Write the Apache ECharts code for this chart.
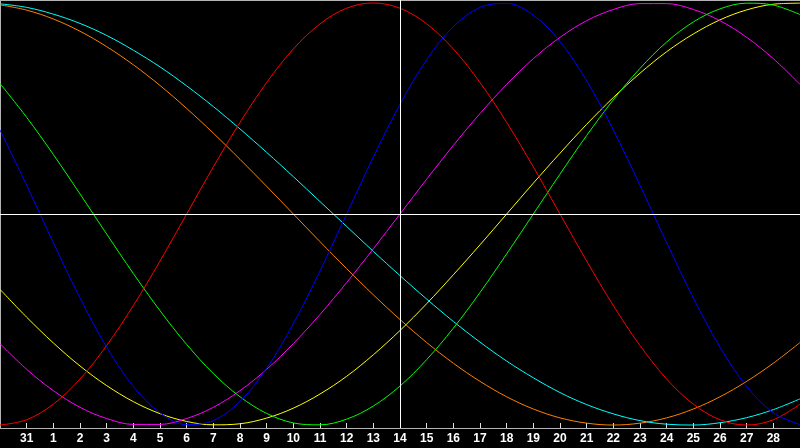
<!DOCTYPE html>
<html>
<head>
<meta charset="utf-8">
<script src="https://cdn.jsdelivr.net/npm/echarts@6/dist/echarts.min.js"></script>
<style>
  html, body { margin: 0; padding: 0; background: #000; }
  #chart { width: 800px; height: 448px; }
</style>
</head>
<body>
<div id="chart"></div>
<script>
// Day labels (index 0 and last are off-label edge days)
const days = ['30','31','1','2','3','4','5','6','7','8','9','10','11','12','13','14','15','16','17','18','19','20','21','22','23','24','25','26','27','28','1'];
const todayIndex = 15; // day "14"

// Cycle values (-1 .. 1)
const physical = [0.398,0.136,-0.136,-0.398,-0.631,-0.817,-0.942,-0.998,-0.979,-0.888,-0.731,-0.520,-0.270,0,0.270,0.520,0.731,0.888,0.979,0.998,0.942,0.817,0.631,0.398,0.136,-0.136,-0.398,-0.631,-0.817,-0.942,-0.998];
const emotional = [-1,-0.975,-0.901,-0.782,-0.623,-0.434,-0.223,0,0.223,0.434,0.623,0.782,0.901,0.975,1,0.975,0.901,0.782,0.623,0.434,0.223,0,-0.223,-0.434,-0.623,-0.782,-0.901,-0.975,-1,-0.975,-0.901];
const intellectual = [0.618,0.458,0.282,0.095,-0.095,-0.282,-0.458,-0.618,-0.756,-0.866,-0.945,-0.990,-0.999,-0.972,-0.910,-0.815,-0.690,-0.541,-0.372,-0.189,0,0.189,0.372,0.541,0.690,0.815,0.910,0.972,0.999,0.990,0.945];
const intuitive = [-0.614,-0.736,-0.837,-0.916,-0.969,-0.997,-0.997,-0.969,-0.916,-0.837,-0.736,-0.614,-0.476,-0.325,-0.165,0,0.165,0.325,0.476,0.614,0.736,0.837,0.916,0.969,0.997,0.997,0.969,0.916,0.837,0.736,0.614];
const aesthetic = [-0.357,-0.489,-0.611,-0.720,-0.813,-0.889,-0.946,-0.983,-0.999,-0.994,-0.967,-0.920,-0.853,-0.769,-0.667,-0.552,-0.425,-0.288,-0.146,0,0.146,0.288,0.425,0.552,0.667,0.769,0.853,0.920,0.967,0.994,0.999];
const awareness = [0.991,0.966,0.924,0.866,0.793,0.707,0.609,0.5,0.383,0.259,0.131,0,-0.131,-0.259,-0.383,-0.5,-0.609,-0.707,-0.793,-0.866,-0.924,-0.966,-0.991,-1,-0.991,-0.966,-0.924,-0.866,-0.793,-0.707,-0.609];
const spiritual = [0.996,0.979,0.947,0.903,0.846,0.776,0.697,0.607,0.509,0.403,0.292,0.177,0.059,-0.059,-0.177,-0.292,-0.403,-0.509,-0.607,-0.697,-0.776,-0.846,-0.903,-0.947,-0.979,-0.996,-1.000,-0.989,-0.965,-0.927,-0.876];

const seriesDefs = [
  { name: 'Awareness', data: awareness, color: '#ff8000' },
  { name: 'Spiritual', data: spiritual, color: '#00ffff' },
  { name: 'Aesthetic', data: aesthetic, color: '#ffff00' },
  { name: 'Intuitive', data: intuitive, color: '#ff00ff' },
  { name: 'Intellectual', data: intellectual, color: '#00ff00' },
  { name: 'Emotional', data: emotional, color: '#ff0000' },
  { name: 'Physical', data: physical, color: '#0000ff' }
];

const chart = echarts.init(document.getElementById('chart'));
const lastIdx = days.length - 1;
const showIdx = (i) => i > 0 && i < lastIdx;

const series = seriesDefs.map((s) => ({
  name: s.name,
  type: 'line',
  data: s.data,
  smooth: 0.35,
  showSymbol: false,
  symbol: 'none',
  lineStyle: { color: s.color, width: 1 },
  itemStyle: { color: s.color },
  silent: true
}));

series.push({
  type: 'line',
  data: [],
  silent: true,
  markLine: {
    silent: true,
    symbol: 'none',
    label: { show: false },
    lineStyle: { color: '#ffffff', width: 1, type: 'solid' },
    data: [{ xAxis: todayIndex }, { yAxis: 0 }]
  }
});

chart.setOption({
  animation: false,
  backgroundColor: '#000000',
  grid: { left: 0, right: 0, top: 0, bottom: 20 },
  xAxis: [
    {
      type: 'category',
      data: days,
      boundaryGap: false,
      position: 'bottom',
      axisLine: { show: true, onZero: false, lineStyle: { color: '#b4b4b4', width: 1 } },
      axisTick: { show: true, inside: true, length: 5, interval: (i) => showIdx(i), lineStyle: { color: '#e0e0e0' } },
      axisLabel: {
        show: true,
        interval: (i) => showIdx(i),
        color: '#ffffff',
        fontFamily: 'Liberation Sans',
        fontWeight: 'bold',
        fontSize: 12,
        margin: 5
      },
      splitLine: { show: false }
    },
    {
      type: 'category',
      data: days,
      boundaryGap: false,
      position: 'top',
      axisLine: { show: true, onZero: false, lineStyle: { color: '#b4b4b4', width: 1 } },
      axisTick: { show: false },
      axisLabel: { show: false },
      splitLine: { show: false }
    }
  ],
  yAxis: {
    type: 'value',
    min: -1.014,
    max: 1.014,
    axisLine: { show: true, onZero: false, lineStyle: { color: '#b4b4b4', width: 1 } },
    axisTick: { show: false },
    axisLabel: { show: false },
    splitLine: { show: false }
  },
  series: series
});
</script>
</body>
</html>
